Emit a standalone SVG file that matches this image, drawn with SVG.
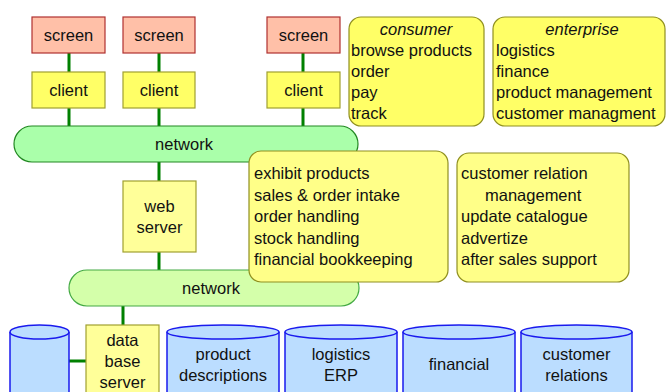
<svg xmlns="http://www.w3.org/2000/svg" width="666" height="392" viewBox="0 0 666 392">
<style>
text{font-family:"Liberation Sans",Arial,sans-serif;font-size:16.5px;fill:#111}
.c{text-anchor:middle}
.i{font-style:italic}
.screen{fill:#ffc0a8;stroke:#b03030;stroke-width:1.2}
.client{fill:#ffff66;stroke:#a0a030;stroke-width:1.2}
.server{fill:#ffff99;stroke:#a0a030;stroke-width:1.2}
.note{fill:#ffff66;stroke:#909020;stroke-width:1.2}
.note2{fill:#ffff88;stroke:#909020;stroke-width:1.2}
.net1{fill:#aaffaa;stroke:#228822;stroke-width:1.2}
.net2{fill:#d4ffaa;stroke:#44aa44;stroke-width:1.2}
.db{fill:#bbddff;stroke:#1a1aee;stroke-width:1.5}
.wire{stroke:#008000;stroke-width:3;fill:none}
</style>
<g id="connectors">
<path class="wire" d="M69 53V72M159 53V72M303 53V72M69 108V126M159 108V126M303 108V126M159 162V181M159 252V270M123 306V325M69 361H86"/>
</g>
<g id="network1"><rect class="net1" x="14" y="126" width="344" height="36" rx="18"/><text class="c" x="184" y="150">network</text></g>
<g id="network2"><rect class="net2" x="69" y="270" width="290" height="36" rx="18"/><text class="c" x="211" y="294">network</text></g>
<g id="screen1"><rect class="screen" x="32" y="17" width="73" height="36"/><text class="c" x="68.5" y="41">screen</text></g>
<g id="screen2"><rect class="screen" x="123" y="17" width="72" height="36"/><text class="c" x="159" y="41">screen</text></g>
<g id="screen3"><rect class="screen" x="267" y="17" width="73" height="36"/><text class="c" x="303.5" y="41">screen</text></g>
<g id="client1"><rect class="client" x="32" y="72" width="73" height="36"/><text class="c" x="68.5" y="96">client</text></g>
<g id="client2"><rect class="client" x="123" y="72" width="72" height="36"/><text class="c" x="159" y="96">client</text></g>
<g id="client3"><rect class="client" x="267" y="72" width="73" height="36"/><text class="c" x="303.5" y="96">client</text></g>
<g id="consumer"><rect class="note" x="349" y="17" width="135" height="109" rx="12"/>
<text class="c i" x="416" y="35">consumer</text>
<text x="351" y="56">browse products</text><text x="351" y="77">order</text><text x="351" y="98">pay</text><text x="351" y="119">track</text></g>
<g id="enterprise"><rect class="note" x="493" y="17" width="172" height="109" rx="12"/>
<text class="c i" x="582" y="35">enterprise</text>
<text x="496" y="56">logistics</text><text x="496" y="77">finance</text><text x="496" y="98">product management</text><text x="496" y="119">customer managment</text></g>
<g id="webserver"><rect class="server" x="123" y="181" width="73" height="71"/><text class="c" x="159.5" y="212">web</text><text class="c" x="159.5" y="233">server</text></g>
<g id="functions"><rect class="note2" x="249" y="151" width="199" height="131" rx="12"/>
<text x="254" y="179">exhibit products</text><text x="254" y="201">sales &amp; order intake</text><text x="254" y="222">order handling</text><text x="254" y="244">stock handling</text><text x="254" y="265">financial bookkeeping</text></g>
<g id="crm"><rect class="note2" x="457" y="153" width="172" height="129" rx="12"/>
<text x="461" y="179">customer relation</text><text x="485" y="201">management</text><text x="461" y="222">update catalogue</text><text x="461" y="244">advertize</text><text x="461" y="265">after sales support</text></g>
<g id="db1"><path class="db" d="M10 332V400H69V332"/><ellipse class="db" cx="39.5" cy="332" rx="29.5" ry="7"/></g>
<g id="dbserver"><rect class="server" x="86" y="325" width="73" height="80"/><text class="c" x="122.5" y="346">data</text><text class="c" x="122.5" y="367">base</text><text class="c" x="122.5" y="388">server</text></g>
<g id="db2"><path class="db" d="M167 332V400H279V332"/><ellipse class="db" cx="223" cy="332" rx="56" ry="7"/><text class="c" x="223" y="360">product</text><text class="c" x="223" y="381">descriptions</text></g>
<g id="db3"><path class="db" d="M285 332V400H397V332"/><ellipse class="db" cx="341" cy="332" rx="56" ry="7"/><text class="c" x="341" y="360">logistics</text><text class="c" x="341" y="381">ERP</text></g>
<g id="db4"><path class="db" d="M403 332V400H515V332"/><ellipse class="db" cx="459" cy="332" rx="56" ry="7"/><text class="c" x="459" y="370">financial</text></g>
<g id="db5"><path class="db" d="M521 332V400H632V332"/><ellipse class="db" cx="576.5" cy="332" rx="55.5" ry="7"/><text class="c" x="576.5" y="360">customer</text><text class="c" x="576.5" y="381">relations</text></g>
</svg>
